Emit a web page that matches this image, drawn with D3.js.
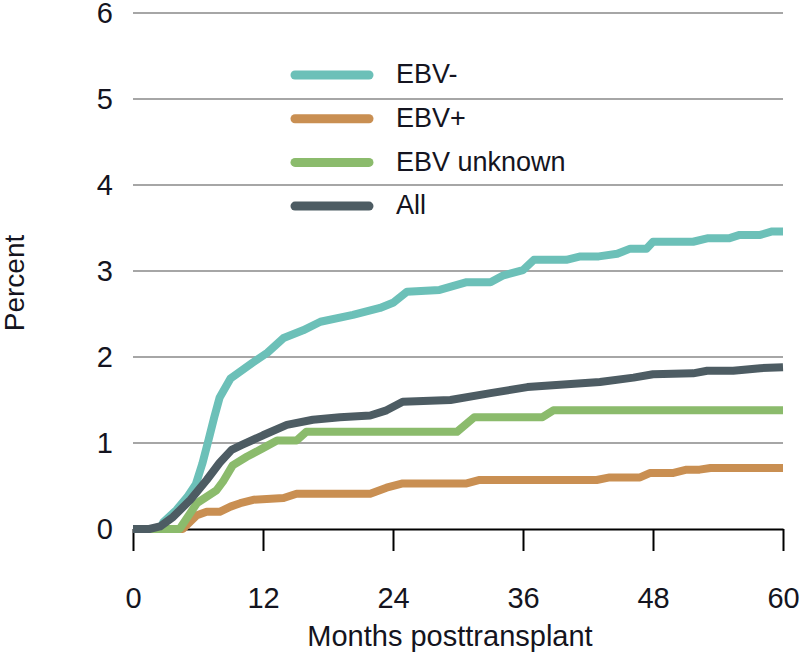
<!DOCTYPE html>
<html>
<head>
<meta charset="utf-8">
<script src="https://cdn.jsdelivr.net/npm/d3@7"></script>
<style>
  body { margin: 0; background: #fff; }
  text { font-family: "Liberation Sans", Arial, sans-serif; fill: #141420; }
</style>
</head>
<body>
<svg id="chart"></svg>
<script>
var svgWidth = 800;
var svgHeight = 660;

var margin = { top: 13, right: 17, bottom: 131, left: 133 };
var plotWidth = svgWidth - margin.left - margin.right;
var plotHeight = svgHeight - margin.top - margin.bottom;

// [month, percent]
var ebvNeg = [[0,0],[2.5,0],[2.8,0.08],[4,0.22],[5,0.37],[5.8,0.52],[6.4,0.76],[7,1.05],[7.5,1.3],[8,1.53],[9,1.75],
  [11,1.93],[12.4,2.05],[13.9,2.22],[15.7,2.31],[17.3,2.41],[20.3,2.49],[22.8,2.57],[24,2.63],[25.3,2.76],
  [28.3,2.78],[30.8,2.87],[33,2.87],[34.2,2.95],[36,3.01],[37,3.13],[40,3.13],[41.3,3.17],[43,3.17],
  [44.7,3.2],[45.9,3.26],[47.4,3.26],[48,3.34],[51.7,3.34],[53,3.38],[55,3.38],[56,3.42],[57.9,3.42],
  [59,3.46],[60,3.46]];
var ebvPos = [[0,0],[4.6,0],[5.9,0.16],[6.8,0.2],[8,0.2],[9,0.26],[9.9,0.3],[11.1,0.34],[13.9,0.36],
  [15.1,0.41],[21.9,0.41],[23.4,0.48],[24.9,0.53],[30.8,0.53],[32,0.57],[42.8,0.57],[44,0.6],[46.8,0.6],
  [47.7,0.65],[49.8,0.65],[51.1,0.69],[52.3,0.69],[53.3,0.71],[60,0.71]];
var ebvUnknown = [[0,0],[4.3,0],[5.9,0.3],[7.7,0.45],[8.3,0.55],[9.2,0.74],[10.5,0.84],[12,0.94],
  [13.3,1.03],[15.1,1.03],[16,1.13],[29.9,1.13],[31.5,1.3],[37.8,1.3],[38.8,1.38],[60,1.38]];
var allPts = [[0,0],[1.5,0],[2.5,0.03],[3.7,0.14],[5.3,0.34],[6.8,0.57],[8,0.77],[9.1,0.92],[10.1,0.98],
  [12,1.09],[14.2,1.21],[16.6,1.27],[19.1,1.3],[21.9,1.32],[23.4,1.38],[24.9,1.48],[29.3,1.5],[33,1.58],
  [36.4,1.65],[43.1,1.71],[46.2,1.76],[48,1.8],[51.7,1.81],[53,1.84],[55.4,1.84],[57.9,1.87],[60,1.88]];

var seriesNames = ['EBV-', 'EBV+', 'EBV unknown', 'All'];
var seriesData = [ebvNeg, ebvPos, ebvUnknown, allPts];
var seriesColors = ['#6cc0b8', '#c98f52', '#8bbb6c', '#4d5c63'];

var xTicks = [0, 12, 24, 36, 48, 60];
var yTicks = [0, 1, 2, 3, 4, 5, 6];

var xScale = d3.scaleLinear().domain([0, 60]).range([0, plotWidth]);
var yScale = d3.scaleLinear().domain([0, 6]).range([plotHeight, 0]);

var svg = d3.select('#chart').attr('width', svgWidth).attr('height', svgHeight);
var plot = svg.append('g').attr('transform', 'translate(' + margin.left + ',' + margin.top + ')');

// gridlines
plot.append('g').selectAll('line')
  .data(yTicks.filter(function(d){ return d > 0; }))
  .enter().append('line')
  .attr('x1', 0).attr('x2', plotWidth)
  .attr('y1', function(d){ return yScale(d); })
  .attr('y2', function(d){ return yScale(d); })
  .attr('stroke', '#a6a6a6').attr('stroke-width', 2);

// y axis labels
var yAxis = plot.append('g')
  .call(d3.axisLeft(yScale).tickValues(yTicks).tickFormat(d3.format('d')).tickSize(0).tickPadding(20));
yAxis.select('.domain').remove();
yAxis.selectAll('text').style('font-size', '29px').attr('fill', '#141420');

// x axis
var xAxis = plot.append('g')
  .attr('transform', 'translate(0,' + plotHeight + ')')
  .call(d3.axisBottom(xScale).tickValues(xTicks).tickSize(22).tickPadding(36).tickSizeOuter(0));
xAxis.select('.domain').attr('stroke', '#000').attr('stroke-width', 2);
xAxis.selectAll('.tick line').attr('stroke', '#000').attr('stroke-width', 2);
xAxis.selectAll('text').style('font-size', '29px').attr('fill', '#141420');

// lines
var line = d3.line()
  .x(function(d){ return xScale(d[0]); })
  .y(function(d){ return yScale(d[1]); });

plot.append('g').selectAll('path')
  .data(seriesData)
  .enter().append('path')
  .attr('d', line)
  .attr('fill', 'none')
  .attr('stroke', function(d, i){ return seriesColors[i]; })
  .attr('stroke-width', 8)
  .attr('stroke-linejoin', 'round');

// legend
var legend = svg.append('g').attr('transform', 'translate(295,75)');
var rows = legend.selectAll('g')
  .data(seriesNames)
  .enter().append('g')
  .attr('transform', function(d, i){ return 'translate(0,' + (i * 43.7) + ')'; });
rows.append('line')
  .attr('x1', 0).attr('x2', 74)
  .attr('stroke', function(d, i){ return seriesColors[i]; })
  .attr('stroke-width', 9)
  .attr('stroke-linecap', 'round');
rows.append('text')
  .attr('x', 101).attr('y', 1)
  .attr('dominant-baseline', 'middle')
  .style('font-size', '27px')
  .text(function(d){ return d; });

// axis titles
svg.append('text')
  .attr('text-anchor', 'middle')
  .attr('x', margin.left + plotWidth / 2 - 8)
  .attr('y', 646)
  .style('font-size', '29px')
  .text('Months posttransplant');

svg.append('text')
  .attr('text-anchor', 'middle')
  .attr('transform', 'translate(24,' + (margin.top + plotHeight / 2 + 12) + ')rotate(-90)')
  .style('font-size', '28px')
  .text('Percent');
</script>
</body>
</html>
